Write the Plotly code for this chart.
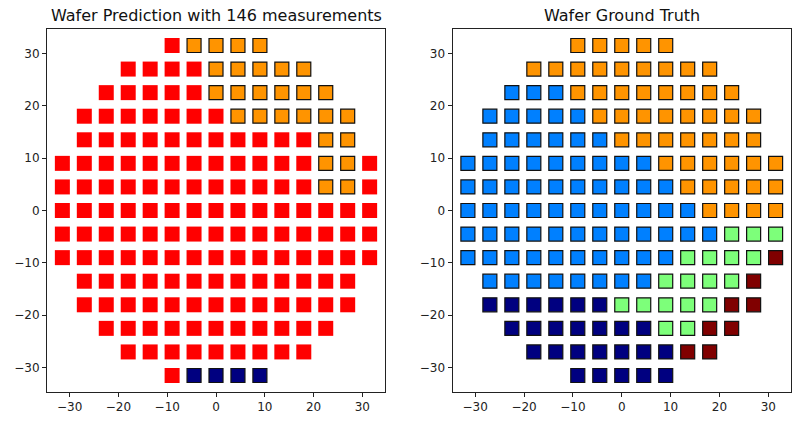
import plotly.graph_objects as go

# Grid coordinates (wafer die centres)
grid_x = [-31.5, -27, -22.5, -18, -13.5, -9, -4.5, 0, 4.5, 9, 13.5, 18, 22.5, 27, 31.5]
grid_y = [31.5, 27, 22.5, 18, 13.5, 9, 4.5, 0, -4.5, -9, -13.5, -18, -22.5, -27, -31.5]

# Class map per row (top to bottom), one char per column:
# '.' no die, 'R' measured, 'N' class 0, 'B' class 1, 'G' class 2, 'O' class 3, 'D' class 4
prediction_rows = [
    ".....ROOOO.....",
    "...RRRROOOOO...",
    "..RRRRROOOOOO..",
    ".RRRRRRROOOOOO.",
    ".RRRRRRRRRRROO.",
    "RRRRRRRRRRRROOR",
    "RRRRRRRRRRRROOR",
    "RRRRRRRRRRRRRRR",
    "RRRRRRRRRRRRRRR",
    "RRRRRRRRRRRRRRR",
    ".RRRRRRRRRRRRR.",
    ".RRRRRRRRRRRRR.",
    "..RRRRRRRRRRR..",
    "...RRRRRRRRR...",
    ".....RNNNN.....",
]
truth_rows = [
    ".....OOOOO.....",
    "...OOOOOOOOO...",
    "..BBBOOOOOOOO..",
    ".BBBBBOOOOOOOO.",
    ".BBBBBBOOOOOOO.",
    "BBBBBBBBBOOOOOO",
    "BBBBBBBBBBOOOOO",
    "BBBBBBBBBBBOOOO",
    "BBBBBBBBBBBBGGG",
    "BBBBBBBBBBGGGGD",
    ".BBBBBBBBGGGGD.",
    ".NNNNNNGGGGGDD.",
    "..NNNNNNNGGDD..",
    "...NNNNNNNDD...",
    ".....NNNNN.....",
]

class_colors = {
    "N": "#000080",
    "B": "#0080ff",
    "G": "#7dff7a",
    "O": "#ff9400",
    "D": "#800000",
}
measured_color = "#ff0000"

titles = ["Wafer Prediction with 146 measurements", "Wafer Ground Truth"]

fig = go.Figure()


def add_map(rows, xa, ya):
    for code in ["R", "N", "B", "G", "O", "D"]:
        xs, ys = [], []
        for r, row in enumerate(rows):
            for c, ch in enumerate(row):
                if ch == code:
                    xs.append(grid_x[c])
                    ys.append(grid_y[r])
        if not xs:
            continue
        if code == "R":
            marker = dict(symbol="square", size=15, color=measured_color, line=dict(width=0))
        else:
            marker = dict(symbol="square", size=14, color=class_colors[code],
                          line=dict(width=1.2, color="#111111"))
        fig.add_trace(go.Scatter(x=xs, y=ys, mode="markers", marker=marker,
                                 xaxis=xa, yaxis=ya, showlegend=False, hoverinfo="skip"))


add_map(prediction_rows, "x", "y")
add_map(truth_rows, "x2", "y2")

W, H = 801, 424
dom1 = [47 / W, 385 / W]
dom2 = [452.5 / W, 791 / W]
ydom = [(H - 392) / H, (H - 29) / H]

axis_common = dict(
    range=[-34.65, 34.65], tickvals=[-30, -20, -10, 0, 10, 20, 30],
    showgrid=False, zeroline=False, showline=True, mirror=True,
    linecolor="#222222", linewidth=1, ticks="outside", ticklen=4, tickwidth=1,
    tickcolor="#222222", tickfont=dict(family="DejaVu Sans", size=12, color="#222222"),
)

fig.update_layout(
    width=W, height=H, margin=dict(l=0, r=0, t=0, b=0),
    paper_bgcolor="white", plot_bgcolor="white",
    xaxis=dict(domain=dom1, anchor="y", **axis_common),
    yaxis=dict(domain=ydom, anchor="x", **axis_common),
    xaxis2=dict(domain=dom2, anchor="y2", **axis_common),
    yaxis2=dict(domain=ydom, anchor="x2", **axis_common),
    annotations=[
        dict(text=titles[0], x=(dom1[0] + dom1[1]) / 2, y=(H - 16) / H, xref="paper", yref="paper",
             showarrow=False, xanchor="center", yanchor="middle",
             font=dict(family="DejaVu Sans", size=16, color="#111111")),
        dict(text=titles[1], x=(dom2[0] + dom2[1]) / 2, y=(H - 16) / H, xref="paper", yref="paper",
             showarrow=False, xanchor="center", yanchor="middle",
             font=dict(family="DejaVu Sans", size=16, color="#111111")),
    ],
)

fig.write_html("out.html")
